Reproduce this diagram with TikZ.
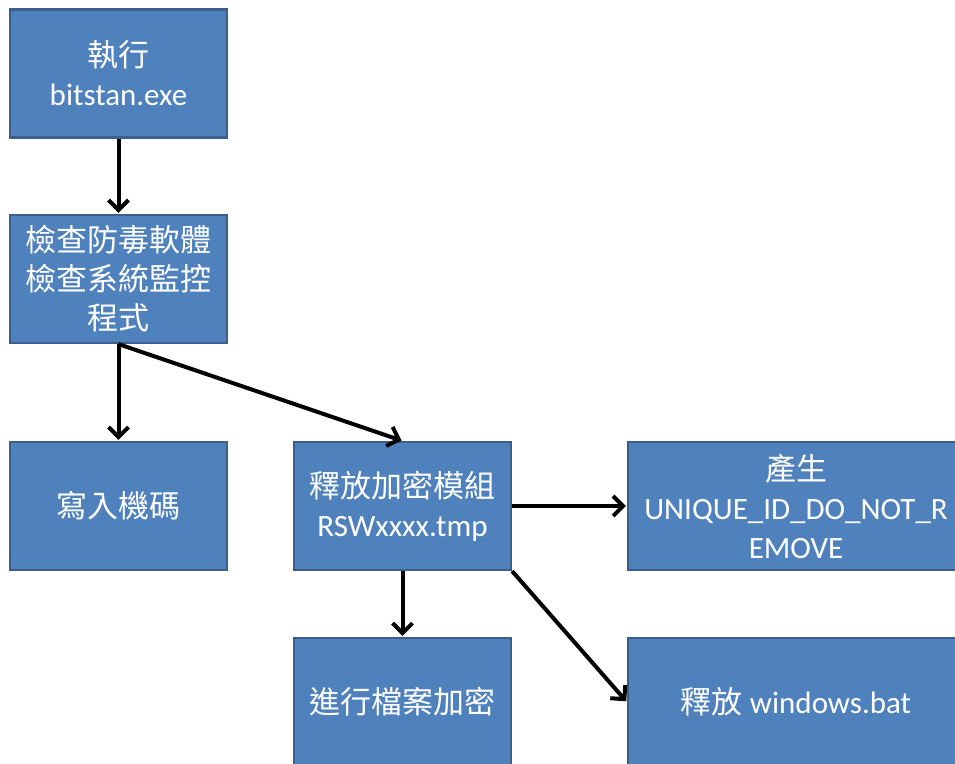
\documentclass[tikz,border=0pt]{standalone}
\usepackage{fontspec}
\setmainfont{Carlito}
\newfontfamily\cjk{Noto Sans CJK TC}
\usetikzlibrary{arrows.meta}
\definecolor{boxfill}{HTML}{4F81BD}
\definecolor{boxline}{HTML}{3A5F8B}
\begin{document}
\begin{tikzpicture}[x=1pt,y=-1pt,
  box/.style={draw=boxline,line width=2.2pt,fill=boxfill,text=white,align=center,
    minimum width=217pt,minimum height=128pt,inner sep=0pt,
    font=\fontsize{31}{39}\selectfont},
  wide/.style={minimum width=336pt},
  arr/.style={line width=4pt,-{Straight Barb[length=10pt,width=20pt,line width=4pt]},shorten >=1pt}]
\useasboundingbox (0,0) rectangle (955,763);
\clip (0,0) rectangle (955,763);
\node[box] (exec) at (118.5,73.5) {{\cjk 執行}\\bitstan.exe};
\node[box] (check) at (118.5,279) {{\cjk 檢查防毒軟體}\\{\cjk 檢查系統監控}\\{\cjk 程式}};
\node[box] (reg) at (118.5,506) {\cjk 寫入機碼};
\node[box] (rel) at (402.5,506) {{\cjk 釋放加密模組}\\RSWxxxx.tmp};
\node[box,wide] (uid) at (796,506) {{\cjk 產生}\\UNIQUE\_ID\_DO\_NOT\_R\\EMOVE};
\node[box] (enc) at (402.5,702) {\cjk 進行檔案加密};
\node[box,wide] (bat) at (796,702) {{\cjk 釋放} windows.bat};
\draw[arr] (exec.south) -- (check.north);
\draw[arr] (check.south) -- (reg.north);
\draw[arr] (check.south) -- (rel.north);
\draw[arr] (rel.east) -- (uid.west);
\draw[arr] (rel.south) -- (enc.north);
\draw[arr] (rel.south east) -- (bat.west);
\end{tikzpicture}
\end{document}
